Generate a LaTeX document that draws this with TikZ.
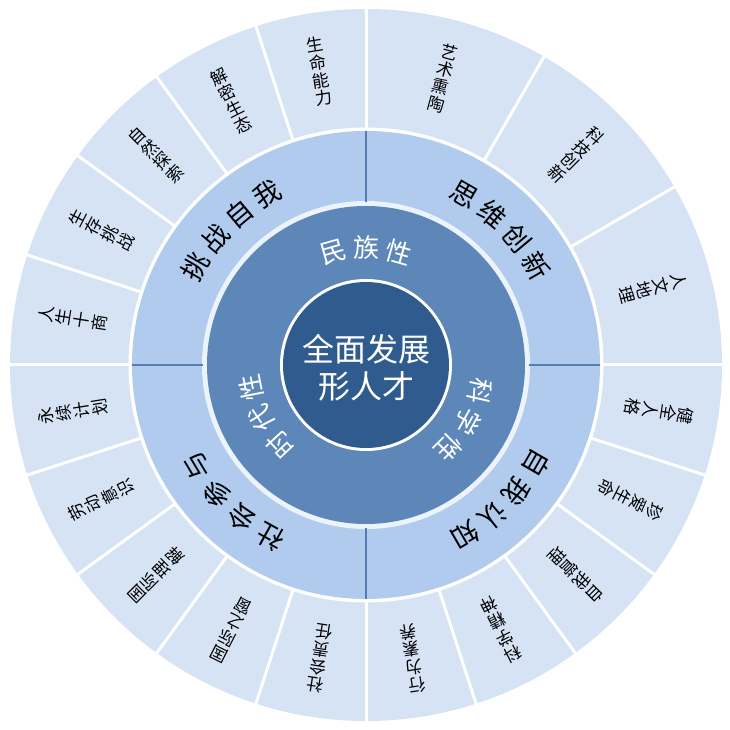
\documentclass[tikz,border=0pt]{standalone}
\usepackage{fontspec}
\newfontfamily\cjk{Noto Sans CJK SC}
\definecolor{outerc}{RGB}{213,227,245}
\definecolor{quadc}{RGB}{176,203,237}
\definecolor{gapc}{RGB}{236,243,251}
\definecolor{midc}{RGB}{94,135,185}
\definecolor{centc}{RGB}{47,91,142}
\definecolor{divc}{RGB}{86,125,175}
\tikzset{
  olab/.style={font=\cjk\fontsize{17}{18}\selectfont, inner sep=0pt, text=black, align=center},
  qlab/.style={font=\cjk\fontsize{27}{27}\selectfont, inner sep=0pt, text=black},
  mlab/.style={font=\cjk\fontsize{26}{26}\selectfont, inner sep=0pt, text=white},
  clab/.style={font=\cjk\fontsize{32}{37}\selectfont, inner sep=0pt, text=white, align=center},
  osep/.style={white, line width=3pt},
  qsep/.style={divc, line width=2.5pt}
}
\begin{document}
\begin{tikzpicture}[x=1pt,y=1pt]
\useasboundingbox (0,0) rectangle (730,730);
\begin{scope}[shift={(366,365)}]
  \fill[outerc] (0,0) circle (356);
  \fill[white] (0,0) circle (237.5);
  \fill[quadc] (0,0) circle (234);
  \fill[gapc] (0,0) circle (164);
  \fill[midc] (0,0) circle (159);
  \fill[white] (0,0) circle (86);
  \fill[centc] (0,0) circle (83);
  % outer separators
  \foreach \a in {0,30,60,90,108,126,144,162,180,198,216,234,252,270,288,306,324,342}
    \draw[osep] (\a:236) -- (\a:358);
  % quadrant dividers
  \foreach \a in {0,90,180,270}
    \draw[qsep] (\a:163) -- (\a:234);
  % outer labels (stacked vertically, rotated along the radius)
  \foreach \t/\s in {75/{艺\\术\\熏\\陶},45/{科\\技\\创\\新},15/{人\\文\\地\\理},
                     99/{生\\命\\能\\力},117/{解\\密\\生\\态},135/{自\\然\\探\\索},153/{生\\存\\挑\\战},171/{人\\生\\十\\商},
                     351/{健\\全\\人\\格},333/{珍\\爱\\生\\命},315/{自\\我\\管\\理},297/{科\\学\\精\\神},279/{行\\为\\素\\养},
                     261/{社\\会\\责\\任},243/{国\\际\\之\\窗},225/{国\\际\\理\\解},207/{劳\\动\\意\\识},189/{永\\续\\计\\划}}
    \node[olab, rotate=\t-90] (o\t) at (\t:297) {\s};
  % quadrant labels
  \foreach \m/\s in {45/{思,维,创,新},135/{挑,战,自,我},315/{自,我,认,知},226/{社,会,参,与}}
  {
    \foreach \c [count=\k] in \s
      \node[qlab, rotate={\m+(2.5-\k)*10-90}] (q\m-\k) at ({\m+(2.5-\k)*10}:197) {\c};
  }
  % middle labels
  \foreach \m/\s in {90/{民,族,性},331/{科,学,性},207/{时,代,性}}
  {
    \foreach \c [count=\k] in \s
      \node[mlab, rotate={\m+(2-\k)*16-90}] (m\m-\k) at ({\m+(2-\k)*16}:117) {\c};
  }
  \node[clab] (center) at (0,-3) {全面发展\\形人才};
\end{scope}
\end{tikzpicture}
\end{document}
